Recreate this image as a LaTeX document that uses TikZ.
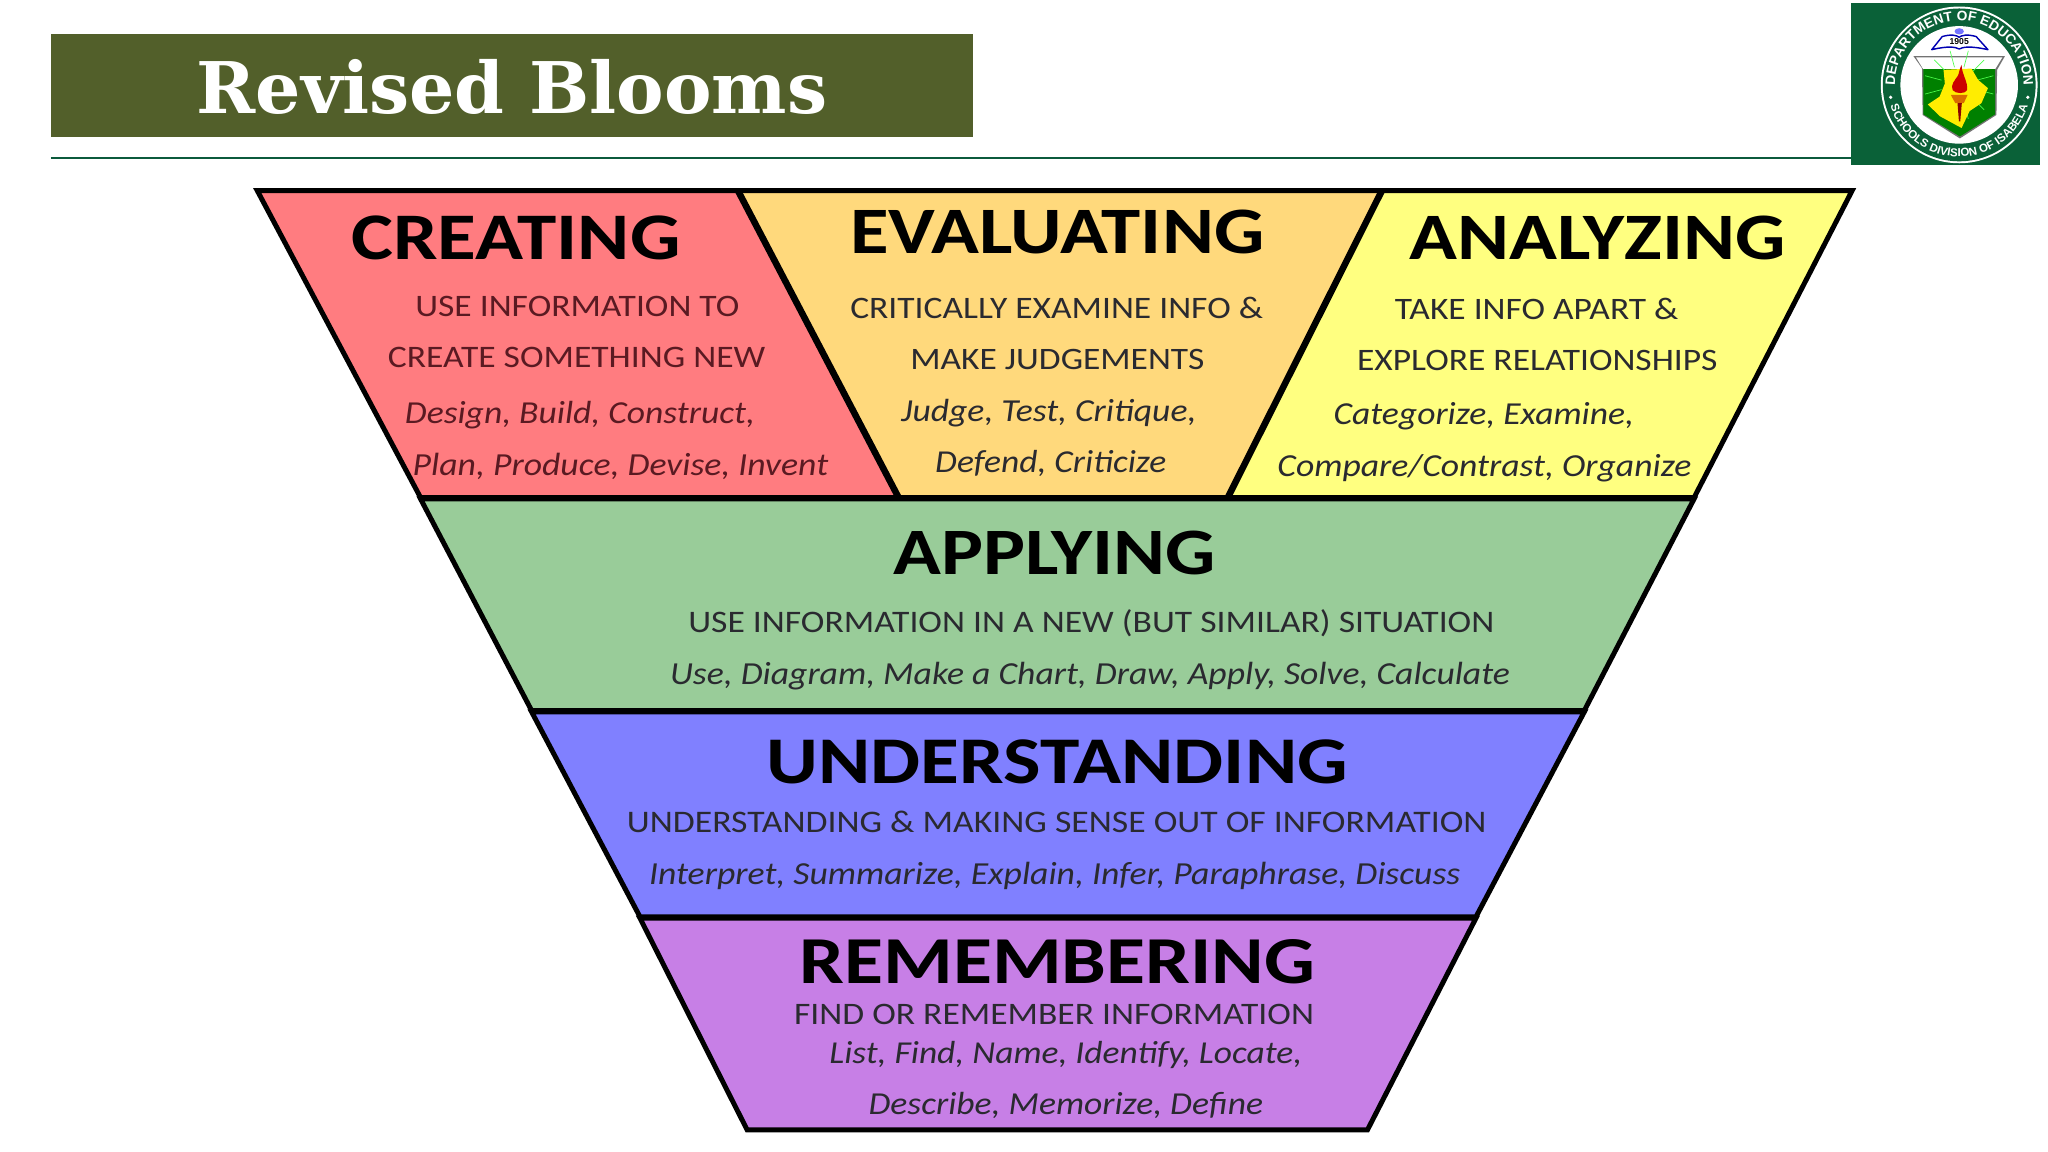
\documentclass[tikz,border=0pt]{standalone}
\usepackage{fontspec}
\usetikzlibrary{decorations.text}
\setmainfont{Carlito}
\newfontfamily\titlefont{DejaVu Serif}
\newfontfamily\logofont{Liberation Sans}
\definecolor{barolive}{HTML}{525F2A}
\definecolor{rulegreen}{HTML}{0B5A3C}
\definecolor{logogreen}{HTML}{0A6138}
\definecolor{cred}{HTML}{FF7C80}
\definecolor{corange}{HTML}{FFD97C}
\definecolor{cyellow}{HTML}{FFFF80}
\definecolor{cgreen}{HTML}{99CC99}
\definecolor{cblue}{HTML}{8080FF}
\definecolor{cpurple}{HTML}{C77FE6}
\definecolor{subred}{HTML}{5A1A22}
\definecolor{subdark}{HTML}{2A2A30}
% name, x1, x2, baseline, colour, font, vertical squash, text
\newcommand{\labx}[8]{%
  \pgfmathsetmacro{\lx}{(#2+#3)/2}\pgfmathsetmacro{\lw}{#3-#2}%
  \node[txt,text=#5] (#1) at (\lx,#4) {\scalebox{1}[#7]{\resizebox{\lw pt}{!}{#6#8}}};}
\newcommand{\hd}[5]{\labx{#1}{#2}{#3}{#4}{black}{\fontsize{46}{46}\selectfont\bfseries}{0.84}{#5}}
\newcommand{\sbt}[6]{\labx{#1}{#2}{#3}{#4}{#5}{\fontsize{23}{23}\selectfont}{0.88}{#6}}
\newcommand{\itl}[6]{\labx{#1}{#2}{#3}{#4}{#5}{\fontsize{23}{23}\selectfont\itshape}{0.9}{#6}}
\tikzset{
  txt/.style={anchor=base,inner sep=0pt,outer sep=0pt},
  band/.style={draw=black,line width=3.8pt,line join=miter},
}
\begin{document}
\begin{tikzpicture}[x=1pt,y=-1pt]
\useasboundingbox (0,0) rectangle (1568,882);
\fill[white] (0,0) rectangle (1568,882);
% header
\fill[barolive] (39,26) rectangle (745,105);
\node[txt,text=white] (title) at (392,87) {\resizebox{483pt}{!}{\titlefont\bfseries\fontsize{60}{60}\selectfont Revised Blooms}};
\draw[rulegreen,line width=1.8pt] (39,121) -- (1417,121);
% pyramid bands
\draw[band,fill=cred] (197,146) -- (565,146) -- (688,381) -- (322,381) -- cycle;
\draw[band,fill=corange] (565,146) -- (1058,146) -- (940,381) -- (688,381) -- cycle;
\draw[band,fill=cyellow] (1058,146) -- (1418,146) -- (1297,381) -- (940,381) -- cycle;
\draw[band,fill=cgreen] (322,382) -- (1297,382) -- (1213,544) -- (407,544) -- cycle;
\draw[band,fill=cblue] (407,545) -- (1213,545) -- (1130,702) -- (490,702) -- cycle;
\draw[band,fill=cpurple] (490,703) -- (1130,703) -- (1047,865) -- (572,865) -- cycle;
\draw[black,line width=5pt] (565,146) -- (688,381);
\draw[black,line width=5pt] (1058,146) -- (940,381);
% creating
\hd{t1}{269}{521}{199}{CREATING}
\sbt{t2}{318}{566}{242}{subred}{USE INFORMATION TO}
\sbt{t3}{297}{586}{281}{subred}{CREATE SOMETHING NEW}
\itl{t4}{310}{578}{324}{subred}{Design, Build, Construct,}
\itl{t5}{316}{634}{364}{subred}{Plan, Produce, Devise, Invent}
% evaluating
\hd{e1}{651}{968}{194}{EVALUATING}
\sbt{e2}{651}{967}{244}{subdark}{CRITICALLY EXAMINE INFO \&}
\sbt{e3}{697}{922}{283}{subdark}{MAKE JUDGEMENTS}
\itl{e4}{690}{916}{323}{subdark}{Judge, Test, Critique,}
\itl{e5}{716}{893}{362}{subdark}{Defend, Criticize}
% analyzing
\hd{a1}{1079}{1367}{199}{ANALYZING}
\sbt{a2}{1068}{1285}{245}{subdark}{TAKE INFO APART \&}
\sbt{a3}{1039}{1315}{284}{subdark}{EXPLORE RELATIONSHIPS}
\itl{a4}{1021}{1251}{325}{subdark}{Categorize, Examine,}
\itl{a5}{978}{1295}{365}{subdark}{Compare/Contrast, Organize}
% applying
\hd{p1}{684}{931}{440}{APPLYING}
\sbt{p2}{527}{1144}{484}{subdark}{USE INFORMATION IN A NEW (BUT SIMILAR) SITUATION}
\itl{p3}{513}{1156}{524}{subdark}{Use, Diagram, Make a Chart, Draw, Apply, Solve, Calculate}
% understanding
\hd{u1}{587}{1032}{600}{UNDERSTANDING}
\sbt{u2}{480}{1138}{637}{subdark}{UNDERSTANDING \& MAKING SENSE OUT OF INFORMATION}
\itl{u3}{497}{1118}{677}{subdark}{Interpret, Summarize, Explain, Infer, Paraphrase, Discuss}
% remembering
\hd{r1}{612}{1007}{753}{REMEMBERING}
\sbt{r2}{608}{1006}{784}{subdark}{FIND OR REMEMBER INFORMATION}
\itl{r3}{635}{997}{814}{subdark}{List, Find, Name, Identify, Locate,}
\itl{r4}{665}{967}{853}{subdark}{Describe, Memorize, Define}
% logo
\fill[logogreen] (1417,2) rectangle (1562,126);
\begin{scope}[shift={(1500,65)},y=1pt]
  \fill[white] (0,0) circle[radius=60];
  \fill[logogreen] (0,0) circle[radius=58.5];
  \fill[white] (0,0) circle[radius=45];
  \path[postaction={decorate,decoration={text along path,text align=center,
      text={|\logofont\bfseries\fontsize{10.5}{10.5}\selectfont\color{white}|DEPARTMENT OF EDUCATION}}}]
      (-48.5,-8) arc[start angle=189.4,end angle=-9.4,radius=49.2];
  \path[postaction={decorate,decoration={text along path,text align=center,
      text={|\logofont\bfseries\fontsize{8.8}{8.8}\selectfont\color{white}|SCHOOLS DIVISION OF ISABELA}}}]
      (-52.9,-15.2) arc[start angle=196,end angle=344,radius=55];
  \fill[white] (-52.5,-9.5) circle[radius=1.4] (52.5,-9.5) circle[radius=1.4];
  % book
  \draw[blue!70!black,line width=1.1pt,fill=white,line join=round]
     (-21,27) -- (-13,37) .. controls (-6,39) and (-2,38) .. (0,36.5)
     .. controls (2,38) and (6,39) .. (13,37) -- (22,27)
     .. controls (8,30) and (3,29) .. (0,27.5) .. controls (-3,29) and (-8,30) .. (-21,27) -- cycle;
  \fill[blue!55!white] (0,41) ellipse[x radius=3.6,y radius=2.4];
  \node[inner sep=0pt,text=black] (year) at (0,33) {\logofont\bfseries\fontsize{6.6}{6.6}\selectfont 1905};
  % shield
  \fill[black!55] (-35,22) -- (35,22) -- (29,11.5) -- (28.5,-23) -- (0.5,-41) -- (-28,-23) -- (-28.5,12.8) -- cycle;
  \fill[white] (-33,21) -- (33,21) -- (27.5,12) -- (-27.5,12) -- cycle;
  \fill[green!50!black] (-27.5,12) -- (27.5,12) -- (27.5,-22.5) -- (0.5,-39.5) -- (-27.5,-22.5) -- cycle;
  \foreach \ang in {15,45,...,345}{
    \draw[green!70!white,line width=.5pt] (\ang:14) -- (\ang:27);
  }
  % map
  \fill[yellow!95!orange] (-12,11.5) -- (9.4,12.5) -- (14.5,3.8) -- (22,-2.5) -- (17,-14) -- (8,-20) -- (1.8,-33) -- (-14.8,-24) -- (-24,-15) -- (-15,-9) -- (-11,1) -- cycle;
  % torch
  \fill[orange!85!black] (-6.4,-7.7) -- (6.4,-7.7) -- (3.5,-14) -- (-3,-14) -- cycle;
  \fill[red!55!black] (-1.3,-14) -- (2,-14) -- (0.8,-28) -- (-0.2,-28) -- cycle;
  \fill[red!80!black] (1.8,15.3) .. controls (2,8) and (7,2) .. (6,-4) .. controls (5,-7) and (-3,-7) .. (-5,-4)
      .. controls (-7,0) and (-3,4) .. (-1,7) .. controls (0,9) and (0,12) .. (1.8,15.3) -- cycle;
\end{scope}
\end{tikzpicture}
\end{document}
